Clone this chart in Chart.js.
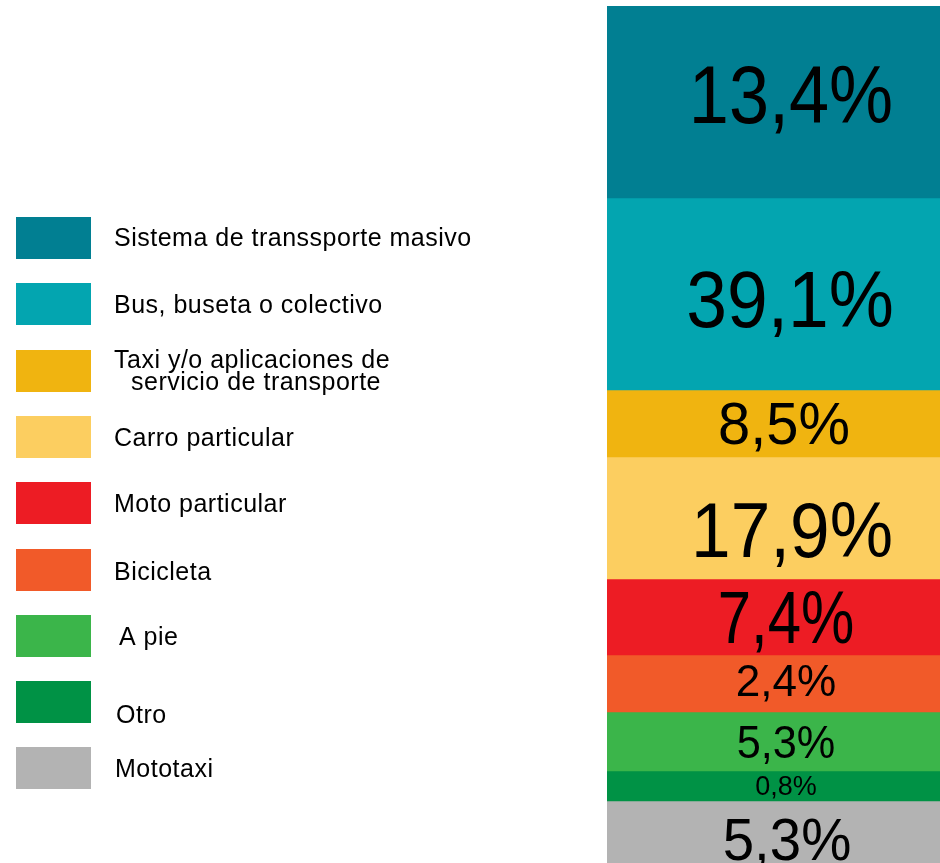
<!DOCTYPE html>
<html><head><meta charset="utf-8">
<script src="https://cdn.jsdelivr.net/npm/chart.js@4"></script>
<style>
html,body{margin:0;padding:0;background:#fff;overflow:hidden;}
#wrap{position:relative;width:940px;height:863px;overflow:hidden;background:#fff;}
#c{position:absolute;left:0;top:0;}
</style></head><body>
<div id="wrap"><canvas id="c" width="967" height="877"></canvas></div>
<script>
// ---- data ----
const modes = [
  'Sistema de transsporte masivo',
  'Bus, buseta o colectivo',
  'Taxi y/o aplicaciones de\nservicio de transporte',
  'Carro particular',
  'Moto particular',
  'Bicicleta',
  'A pie',
  'Otro',
  'Mototaxi'
];
const shareLabels = ['13,4%', '39,1%', '8,5%', '17,9%', '7,4%', '2,4%', '5,3%', '0,8%', '5,3%'];
// relative segment heights as drawn in the picture
const segmentSize = [192, 192, 67, 122, 76, 57, 59, 30, 76];
const category = ['Modo de transporte'];

// ---- styles ----
const colors = ['#017F92', '#03A5B0', '#F0B410', '#FCCE60', '#ED1C24', '#F15A29', '#3BB54A', '#009245', '#B3B3B3'];
const labelFontSizes = [81, 80, 60, 77, 74, 45, 46, 27, 60];
const labelScaleX = [0.89, 0.915, 0.965, 0.925, 0.81, 0.98, 0.94, 1.0, 0.94];
const labelNudgeX = [4, 3, -3, 5, -1, -1, -1, -1, 0];
const labelNudgeY = [-8, 4, -1, 11, 0, -4, 0, -1, 0];
const legendStyle = {
  boxX: 16, boxW: 75, boxH: 42, firstTop: 217, step: 66.3,
  textX: 114, font: 25, letterSpacing: 0.5, lineGap: 22,
  dx: [0, 0, 0, 0, 0, 0, 5, 2, 1],
  dy: [-1, 0, -1, 0, 0, 1, 0, 12, 0],
  secondLineIndent: 17
};
const FONT = '"Liberation Sans", Arial, Helvetica, sans-serif';

const total = segmentSize.reduce((a, b) => a + b, 0);

const segmentLabels = {
  id: 'segmentLabels',
  afterDatasetsDraw(chart) {
    const ctx = chart.ctx;
    chart.data.datasets.forEach((ds, i) => {
      const el = chart.getDatasetMeta(i).data[0];
      const p = el.getProps(['x', 'y', 'base'], true);
      const size = labelFontSizes[i];
      const cy = (p.y + p.base) / 2 + labelNudgeY[i];
      ctx.save();
      ctx.font = size + 'px ' + FONT;
      ctx.fillStyle = '#000';
      ctx.textAlign = 'center';
      ctx.textBaseline = 'alphabetic';
      ctx.translate(p.x + labelNudgeX[i], cy + 0.358 * size);
      ctx.scale(labelScaleX[i], 1);
      ctx.fillText(shareLabels[i], 0, 0);
      ctx.restore();
    });
  }
};

const sideLegend = {
  id: 'sideLegend',
  afterDraw(chart) {
    const ctx = chart.ctx;
    const s = legendStyle;
    ctx.save();
    chart.data.datasets.forEach((ds, i) => {
      const top = Math.round(s.firstTop + i * s.step);
      ctx.fillStyle = ds.backgroundColor;
      ctx.fillRect(s.boxX, top, s.boxW, s.boxH);
      const cy = top + s.boxH / 2 + s.dy[i];
      ctx.fillStyle = '#000';
      ctx.font = s.font + 'px ' + FONT;
      if ('letterSpacing' in ctx) ctx.letterSpacing = s.letterSpacing + 'px';
      ctx.textAlign = 'left';
      ctx.textBaseline = 'alphabetic';
      const lines = ds.label.split('\n');
      const n = lines.length;
      lines.forEach((ln, k) => {
        const ly = cy + (k - (n - 1) / 2) * s.lineGap;
        const lx = s.textX + s.dx[i] + (k > 0 ? s.secondLineIndent : 0);
        ctx.fillText(ln, lx, ly + 0.34 * s.font);
      });
    });
    ctx.restore();
  }
};

new Chart(document.getElementById('c'), {
  type: 'bar',
  data: {
    labels: category,
    datasets: modes.map((m, i) => ({
      label: m,
      data: [segmentSize[i]],
      backgroundColor: colors[i],
      borderWidth: 0,
      categoryPercentage: 1,
      barPercentage: 1
    }))
  },
  options: {
    responsive: false,
    animation: false,
    devicePixelRatio: 1,
    layout: { padding: { left: 607, top: 6, right: 0, bottom: 0 } },
    plugins: { legend: { display: false }, tooltip: { enabled: false } },
    scales: {
      x: { stacked: true, display: false },
      y: { stacked: true, display: false, reverse: true, min: 0, max: total }
    }
  },
  plugins: [segmentLabels, sideLegend]
});
</script>
</body></html>
